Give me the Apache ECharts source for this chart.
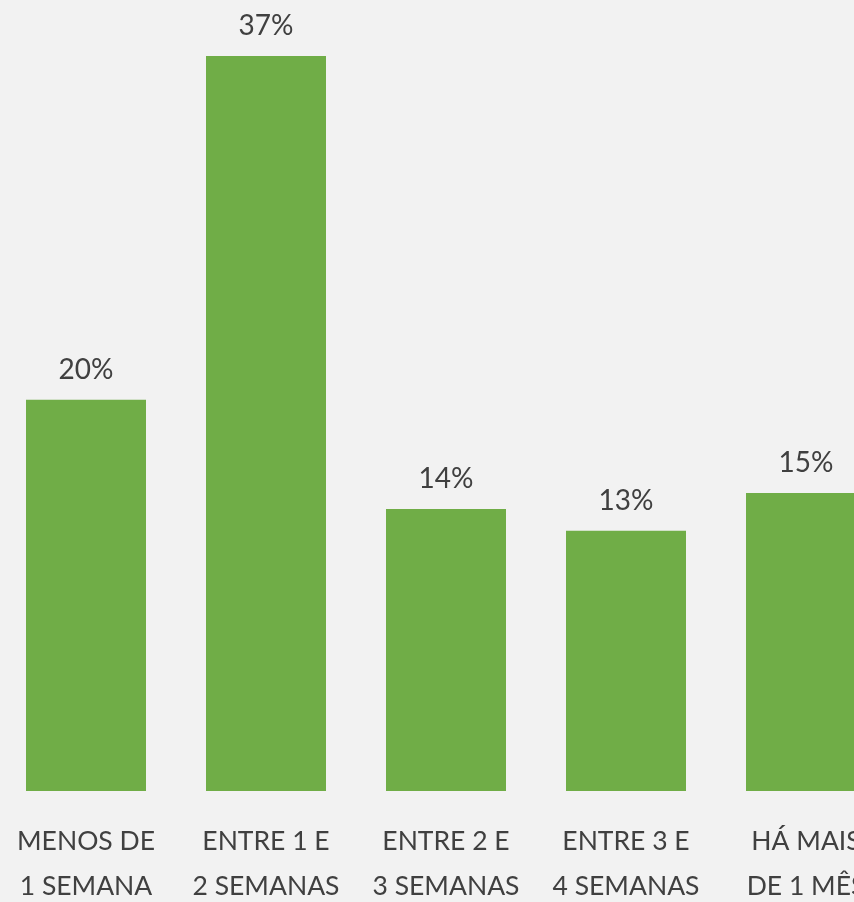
<!DOCTYPE html>
<html>
<head>
<meta charset="utf-8">
<script src="https://cdn.jsdelivr.net/npm/echarts@6/dist/echarts.min.js"></script>
<style>
  html, body { margin: 0; padding: 0; background: #f2f2f2; }
  #chart { width: 854px; height: 902px; }
</style>
</head>
<body>
<div id="chart"></div>
<script>
// categorias (eixo x) e valores em %
var categories = ['MENOS DE\n1 SEMANA', 'ENTRE 1 E\n2 SEMANAS', 'ENTRE 2 E\n3 SEMANAS', 'ENTRE 3 E\n4 SEMANAS', 'HÁ MAIS\nDE 1 MÊS'];
var values = [19.7, 37.0, 14.2, 13.1, 15.0];

var textColor = '#404040';
var fontFamily = 'Lato, "Open Sans", sans-serif';

var chart = echarts.init(document.getElementById('chart'));

var option = {
  backgroundColor: '#f2f2f2',
  animation: false,
  grid: {
    left: -4,
    width: 900,
    top: 56,
    bottom: 111,
    outerBoundsMode: 'none', // o gráfico original é cortado à direita
    containLabel: false
  },
  xAxis: {
    type: 'category',
    data: categories,
    axisLine: { show: false },
    axisTick: { show: false },
    axisLabel: {
      interval: 0,
      margin: 28,
      color: textColor,
      fontFamily: fontFamily,
      fontSize: 26.5,
      lineHeight: 45
    }
  },
  yAxis: {
    type: 'value',
    min: 0,
    max: 37,
    show: false,
    splitLine: { show: false }
  },
  series: [
    {
      type: 'bar',
      data: values,
      barWidth: 120,
      itemStyle: { color: '#70ad47' },
      label: {
        show: true,
        position: 'top',
        distance: 16,
        color: textColor,
        fontFamily: fontFamily,
        fontSize: 28,
        formatter: function (p) { return Math.round(p.value) + '%'; }
      }
    }
  ]
};

chart.setOption(option);
</script>
</body>
</html>
